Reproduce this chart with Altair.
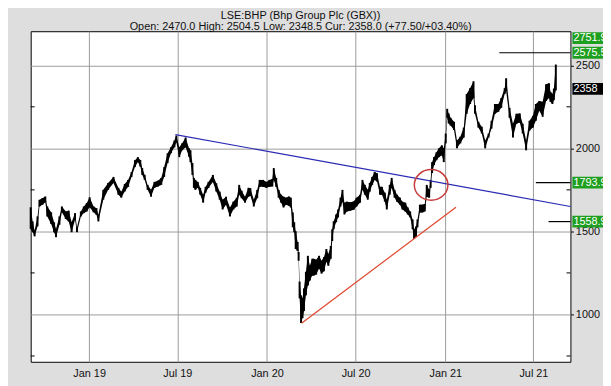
import altair as alt
import pandas as pd

# ---------------- data ----------------
dates = [
    "2018-09-03", "2018-09-07", "2018-09-11", "2018-09-17", "2018-09-21", "2018-09-27",
    "2018-10-03", "2018-10-07", "2018-10-15", "2018-10-21", "2018-10-25", "2018-11-01",
    "2018-11-06", "2018-11-14", "2018-11-20", "2018-11-26", "2018-12-03", "2018-12-07",
    "2018-12-15", "2018-12-21", "2018-12-27", "2019-01-02", "2019-01-10", "2019-01-16",
    "2019-01-20", "2019-01-30", "2019-02-09", "2019-02-20", "2019-03-02", "2019-03-08",
    "2019-03-15", "2019-03-22", "2019-03-29", "2019-04-05", "2019-04-11", "2019-04-16",
    "2019-04-20", "2019-04-25", "2019-05-01", "2019-05-08", "2019-05-15", "2019-05-22",
    "2019-05-29", "2019-06-04", "2019-06-11", "2019-06-18", "2019-06-25", "2019-06-29",
    "2019-07-05", "2019-07-11", "2019-07-18", "2019-07-25", "2019-07-28", "2019-08-01",
    "2019-08-04", "2019-08-07", "2019-08-12", "2019-08-17", "2019-08-23", "2019-08-28",
    "2019-09-03", "2019-09-12", "2019-09-19", "2019-09-26", "2019-10-02", "2019-10-09",
    "2019-10-17", "2019-10-24", "2019-10-31", "2019-11-05", "2019-11-10", "2019-11-17",
    "2019-11-24", "2019-11-28", "2019-12-05", "2019-12-12", "2019-12-17", "2019-12-24",
    "2019-12-31", "2020-01-06", "2020-01-12", "2020-01-15", "2020-01-20", "2020-01-25",
    "2020-01-30", "2020-02-04", "2020-02-09", "2020-02-15", "2020-02-19", "2020-02-23",
    "2020-02-26", "2020-02-29", "2020-03-04", "2020-03-06", "2020-03-08", "2020-03-11",
    "2020-03-14", "2020-03-17", "2020-03-21", "2020-03-25", "2020-03-29", "2020-04-03",
    "2020-04-06", "2020-04-11", "2020-04-17", "2020-04-22", "2020-04-27", "2020-05-02",
    "2020-05-06", "2020-05-11", "2020-05-14", "2020-05-17", "2020-05-22", "2020-05-26",
    "2020-05-31", "2020-06-04", "2020-06-08", "2020-06-13", "2020-06-20", "2020-06-27",
    "2020-07-03", "2020-07-10", "2020-07-15", "2020-07-20", "2020-07-26", "2020-07-30",
    "2020-08-04", "2020-08-09", "2020-08-14", "2020-08-20", "2020-08-24", "2020-08-30",
    "2020-09-03", "2020-09-09", "2020-09-13", "2020-09-19", "2020-09-24", "2020-09-30",
    "2020-10-05", "2020-10-11", "2020-10-16", "2020-10-21", "2020-10-26", "2020-10-29",
    "2020-11-02", "2020-11-05", "2020-11-10", "2020-11-15", "2020-11-20", "2020-11-24",
    "2020-11-29", "2020-12-02", "2020-12-05", "2020-12-09", "2020-12-14", "2020-12-19",
    "2020-12-25", "2020-12-29", "2021-01-02", "2021-01-05", "2021-01-08", "2021-01-12",
    "2021-01-19", "2021-01-25", "2021-02-01", "2021-02-08", "2021-02-14", "2021-02-21",
    "2021-02-28", "2021-03-03", "2021-03-10", "2021-03-17", "2021-03-24", "2021-03-31",
    "2021-04-06", "2021-04-13", "2021-04-20", "2021-04-26", "2021-05-03", "2021-05-06",
    "2021-05-13", "2021-05-20", "2021-05-27", "2021-06-03", "2021-06-09", "2021-06-16",
    "2021-06-23", "2021-06-30", "2021-07-06", "2021-07-13", "2021-07-20", "2021-07-27",
    "2021-08-02", "2021-08-05", "2021-08-09", "2021-08-12", "2021-08-16",
]
lows = [
    1515, 1495, 1470, 1530, 1650, 1660, 1675, 1590, 1545, 1495, 1465, 1540,
    1615, 1575, 1560, 1495, 1570, 1495, 1590, 1610, 1620, 1645, 1615, 1600,
    1560, 1691, 1750, 1792, 1721, 1703, 1740, 1768, 1828, 1887, 1917, 1890,
    1840, 1810, 1750, 1709, 1762, 1770, 1780, 1828, 1911, 1970, 2006, 2036,
    1947, 1988, 2006, 1950, 1917, 1840, 1762, 1750, 1762, 1721, 1673, 1733,
    1762, 1798, 1740, 1691, 1632, 1661, 1590, 1632, 1650, 1721, 1700, 1673,
    1709, 1715, 1650, 1700, 1768, 1768, 1762, 1768, 1770, 1810, 1768, 1703,
    1673, 1644, 1661, 1655, 1644, 1525, 1495, 1394, 1382, 1323, 1097, 949,
    978, 1020, 1115, 1174, 1204, 1234, 1234, 1240, 1276, 1246, 1260, 1317,
    1293, 1335, 1442, 1513, 1555, 1584, 1650, 1679, 1602, 1620, 1625, 1630,
    1650, 1673, 1750, 1721, 1691, 1739, 1780, 1810, 1800, 1721, 1721, 1679,
    1632, 1721, 1762, 1703, 1679, 1661, 1632, 1620, 1602, 1584, 1513, 1454,
    1470, 1525, 1614, 1614, 1620, 1709, 1703, 1762, 1851, 1899, 1929, 1947,
    1958, 1917, 2030, 2184, 2150, 2137, 2110, 2000, 2030, 2065, 2208, 2267,
    2303, 2208, 2125, 2089, 2000, 2065, 2119, 2208, 2220, 2244, 2327, 2345,
    2184, 2065, 2148, 2155, 2089, 1988, 2107, 2125, 2166, 2226, 2190, 2285,
    2303, 2280, 2267, 2290, 2348.5,
]
highs = [
    1645, 1560, 1505, 1590, 1690, 1700, 1710, 1650, 1615, 1555, 1515, 1590,
    1650, 1620, 1625, 1555, 1610, 1525, 1620, 1650, 1670, 1705, 1650, 1640,
    1600, 1750, 1792, 1828, 1762, 1739, 1785, 1810, 1857, 1929, 1947, 1930,
    1881, 1840, 1780, 1750, 1798, 1805, 1822, 1887, 1970, 2006, 2047, 2077,
    2006, 2030, 2065, 2000, 1988, 1911, 1822, 1810, 1798, 1762, 1721, 1768,
    1798, 1840, 1790, 1739, 1691, 1709, 1644, 1679, 1703, 1780, 1745, 1709,
    1762, 1760, 1691, 1750, 1810, 1810, 1798, 1810, 1815, 1881, 1822, 1750,
    1721, 1709, 1703, 1710, 1703, 1614, 1555, 1501, 1436, 1376, 1198, 1115,
    1097, 1157, 1257, 1353, 1293, 1335, 1335, 1330, 1353, 1323, 1345, 1394,
    1364, 1412, 1513, 1561, 1602, 1632, 1703, 1750, 1673, 1679, 1675, 1680,
    1703, 1721, 1810, 1780, 1750, 1792, 1828, 1857, 1850, 1768, 1768, 1733,
    1691, 1780, 1822, 1750, 1721, 1703, 1679, 1673, 1644, 1620, 1572, 1513,
    1530, 1572, 1661, 1661, 1665, 1780, 1750, 1810, 1917, 1947, 1976, 2000,
    2018, 2000, 2089, 2238, 2210, 2184, 2160, 2047, 2070, 2125, 2327, 2362,
    2404, 2260, 2160, 2130, 2047, 2089, 2166, 2267, 2267, 2303, 2362, 2422,
    2244, 2148, 2208, 2210, 2148, 2047, 2166, 2196, 2267, 2285, 2280, 2386,
    2392, 2340, 2327, 2360, 2504.5,
]

# trend lines (blue resistance, red support)
blue_dates = ["2019-06-27", "2021-09-15"]
blue_values = [2083, 1650]
red_dates = ["2020-03-12", "2021-01-23"]
red_values = [947, 1645]

# circled breakout
circle_dates = ["2020-12-03"]
circle_values = [1780]

# target levels shown at right
level_values = [2575.5, 1793.9, 1558.9]
level_starts = ["2021-04-22", "2021-07-06", "2021-08-01"]
level_ends = ["2021-09-15", "2021-09-15", "2021-09-15"]
level_labels = ["2575.5", "1793.9", "1558.9"]
top_level_label = ["2751.9"]
current_value = [2358]
current_label = ["2358"]
minor_ticks = [750, 1250, 1750, 2250]

title_text = "LSE:BHP (Bhp Group Plc (GBX))"
subtitle_text = "Open: 2470.0 High: 2504.5 Low: 2348.5 Cur: 2358.0 (+77.50/+03.40%)"

# ---------------- chart ----------------
W, H = 547, 335
FONT = "Liberation Sans"

price = pd.DataFrame({"date": dates, "low": lows, "high": highs})
blue = pd.DataFrame({"date": blue_dates, "value": blue_values})
red = pd.DataFrame({"date": red_dates, "value": red_values})
circ = pd.DataFrame({"date": circle_dates, "value": circle_values})
levels = pd.DataFrame({"start": level_starts, "end": level_ends,
                       "value": level_values, "label": level_labels})
topl = pd.DataFrame({"label": top_level_label})
cur = pd.DataFrame({"value": current_value, "label": current_label})
minor = pd.DataFrame({"value": minor_ticks})

xscale = alt.Scale(domain=[alt.DateTime(year=2018, month=9, date=3),
                           alt.DateTime(year=2021, month=9, date=15)])
yscale = alt.Scale(domain=[715, 2705], nice=False, zero=False)

xaxis = alt.Axis(
    values=[alt.DateTime(year=y, month=m, date=1)
            for y, m in [(2019, 1), (2019, 7), (2020, 1), (2020, 7), (2021, 1), (2021, 7)]],
    format="%b %y", title=None, grid=True, gridColor="#9a9a9a", gridWidth=1,
    domain=False, ticks=False, labelPadding=6, labelFontSize=11, labelFont=FONT,
    labelColor="#111111",
)
yaxis = alt.Axis(
    orient="right", values=[1000, 1500, 2000, 2500], format="d", title=None, grid=True,
    gridColor="#9a9a9a", gridWidth=1, domain=False, ticks=True, tickSize=3,
    tickColor="#000000", labelPadding=2, labelFontSize=11, labelFont=FONT,
    labelColor="#111111",
)

x_enc = alt.X("date:T", scale=xscale, axis=xaxis)
y_enc = alt.Y("low:Q", scale=yscale, axis=yaxis)

band = alt.Chart(price).mark_area(color="#000000", opacity=1).encode(
    x=x_enc, y=y_enc, y2="high:Q")
bars = alt.Chart(price).mark_rule(color="#000000", strokeWidth=2).encode(
    x=alt.X("date:T", scale=xscale), y=alt.Y("low:Q", scale=yscale), y2="high:Q")

blue_line = alt.Chart(blue).mark_line(color="#2a2ab4", strokeWidth=1.2).encode(
    x=alt.X("date:T", scale=xscale), y=alt.Y("value:Q", scale=yscale))
red_line = alt.Chart(red).mark_line(color="#e0452c", strokeWidth=1.2).encode(
    x=alt.X("date:T", scale=xscale), y=alt.Y("value:Q", scale=yscale))

ellipse = alt.Chart(circ).mark_point(
    shape="M-1,0 A1,0.91 0 1,1 1,0 A1,0.91 0 1,1 -1,0 Z",
    size=1156, filled=False, color="#c83c3c", strokeWidth=1.5, opacity=1,
).encode(x=alt.X("date:T", scale=xscale), y=alt.Y("value:Q", scale=yscale))

level_lines = alt.Chart(levels).mark_rule(color="#000000", strokeWidth=1.2).encode(
    x=alt.X("start:T", scale=xscale), x2="end:T", y=alt.Y("value:Q", scale=yscale))

BOX = "M-1,-0.3 H1 V0.3 H-1 Z"
level_boxes = alt.Chart(levels).mark_point(
    shape=BOX, size=1600, filled=True, color="#1f9f1f", opacity=1).encode(
    x=alt.value(W + 22), y=alt.Y("value:Q", scale=yscale))
level_text = alt.Chart(levels).mark_text(
    align="left", baseline="middle", color="white", fontSize=11, font=FONT).encode(
    x=alt.value(W + 3), y=alt.Y("value:Q", scale=yscale), text="label:N")

top_box = alt.Chart(topl).mark_point(
    shape=BOX, size=1600, filled=True, color="#1f9f1f", opacity=1).encode(
    x=alt.value(W + 22), y=alt.value(7))
top_text = alt.Chart(topl).mark_text(
    align="left", baseline="middle", color="white", fontSize=11, font=FONT).encode(
    x=alt.value(W + 3), y=alt.value(7), text="label:N")

cur_box = alt.Chart(cur).mark_point(
    shape=BOX, size=1600, filled=True, color="#000000", opacity=1).encode(
    x=alt.value(W + 22), y=alt.Y("value:Q", scale=yscale))
cur_text = alt.Chart(cur).mark_text(
    align="left", baseline="middle", color="white", fontSize=11, font=FONT).encode(
    x=alt.value(W + 3), y=alt.Y("value:Q", scale=yscale), text="label:N")

minor_left = alt.Chart(minor).mark_rule(color="#000000", strokeWidth=1).encode(
    x=alt.value(0), x2=alt.value(4), y=alt.Y("value:Q", scale=yscale))
minor_right = alt.Chart(minor).mark_rule(color="#000000", strokeWidth=1).encode(
    x=alt.value(W - 4), x2=alt.value(W), y=alt.Y("value:Q", scale=yscale))

chart = alt.layer(
    band, bars, blue_line, red_line, ellipse, level_lines, minor_left, minor_right,
    level_boxes, level_text, top_box, top_text, cur_box, cur_text,
).properties(
    width=W, height=H,
    title=alt.TitleParams(
        text=title_text, subtitle=subtitle_text, anchor="middle",
        font=FONT, subtitleFont=FONT, fontSize=11, subtitleFontSize=11,
        fontWeight="normal", color="#111111", subtitleColor="#111111",
        offset=-1, subtitlePadding=0,
    ),
    background="#dedede",
    padding={"left": 23, "top": 21, "right": 33, "bottom": 22},
    autosize=alt.AutoSizeParams(type="none"),
).configure_view(
    stroke="#000000", strokeWidth=1, fill="#ffffff"
)

chart.save("out.html", embed_options={"renderer": "svg", "actions": False})
